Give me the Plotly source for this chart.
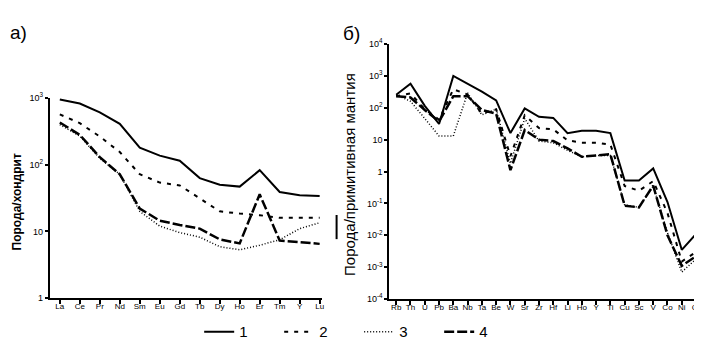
import plotly.graph_objects as go

W, H = 702, 354

# ---- data: chondrite-normalised REE (panel a) ----
ree = ["La", "Ce", "Pr", "Nd", "Sm", "Eu", "Gd", "Tb", "Dy", "Ho", "Er", "Tm", "Y", "Lu"]
ree_1 = [950, 830, 610, 410, 180, 137, 115, 63, 50, 47, 83, 39, 35, 34]
ree_2 = [570, 420, 265, 155, 72, 54, 49, 31, 20, 18.5, 17.5, 16, 16, 16]
ree_3 = [400, 270, 125, 72, 20, 12, 9.6, 8.2, 5.9, 5.3, 6.2, 7.5, 11, 13.5]
ree_4 = [430, 280, 130, 72, 22, 14.5, 12.5, 11, 7.6, 6.6, 36, 7.3, 6.9, 6.5]

# ---- data: primitive-mantle-normalised (panel б) ----
pm = ["Rb", "Th", "U", "Pb", "Ba", "Nb", "Ta", "Be", "W", "Sr", "Zr", "Hf", "Li",
      "Ho", "Y", "Ti", "Cu", "Sc", "V", "Co", "Ni", "Cr"]
pm_1 = [255, 570, 115, 31, 1000, 570, 320, 170, 16, 95, 52, 48, 16, 19, 19, 16,
        0.52, 0.52, 1.25, 0.11, 0.0035, 0.011]
pm_2 = [230, 280, 90, 42, 380, 260, 65, 90, 3, 58, 23, 21, 9.5, 8, 8, 7,
        0.35, 0.25, 0.5, 0.05, 0.0015, 0.003]
pm_3 = [255, 160, 46, 13, 13, 290, 60, 90, 1.8, 46, 9, 8, 4.6, 2.9, 3.2, 3.2,
        0.09, 0.075, 0.35, 0.012, 0.0007, 0.0018]
pm_4 = [230, 210, 85, 37, 230, 230, 85, 65, 1.1, 20, 10, 9, 5.3, 2.9, 3.2, 3.5,
        0.085, 0.075, 0.36, 0.01, 0.0011, 0.0022]

names = ["1", "2", "3", "4"]
styles = [
    dict(color="black", width=2, dash="solid"),
    dict(color="black", width=2, dash="4px,6px"),
    dict(color="black", width=1.5, dash="1px,2px"),
    dict(color="black", width=2.5, dash="10px,3px"),
]

fig = go.Figure()
for i, ys in enumerate([ree_1, ree_2, ree_3, ree_4]):
    fig.add_trace(go.Scatter(x=ree, y=ys, mode="lines", line=styles[i], name=names[i],
                             xaxis="x", yaxis="y", showlegend=True, cliponaxis=False))
for i, ys in enumerate([pm_1, pm_2, pm_3, pm_4]):
    fig.add_trace(go.Scatter(x=pm, y=ys, mode="lines", line=styles[i], name=names[i],
                             xaxis="x2", yaxis="y2", showlegend=False, cliponaxis=False))


def px_x(p):
    return p / W


def px_y(p):
    return (H - p) / H


FAM = "Liberation Sans, Arial, sans-serif"
xtickfont = dict(family=FAM, size=8, color="black")
ytickfont = dict(family=FAM, size=9, color="black")
axis_common = dict(showline=True, linecolor="black", linewidth=2, showgrid=False,
                   zeroline=False, ticks="outside", tickwidth=1.5,
                   tickcolor="black", mirror=False)

fig.update_layout(
    width=W, height=H,
    margin=dict(l=0, r=0, t=0, b=0),
    paper_bgcolor="white", plot_bgcolor="white",
    font=dict(family=FAM, color="black"),
    xaxis=dict(domain=[px_x(42), px_x(315)], anchor="y", type="category",
               range=[-0.5, 13.1], tickfont=xtickfont, ticklen=4,
               tickmode="array", tickvals=ree, ticktext=ree,
               ticklabelstandoff=-5, **axis_common),
    yaxis=dict(domain=[px_y(293), px_y(86)], anchor="x", type="log",
               range=[0, 3], tickvals=[1, 10, 100, 1000], tickfont=ytickfont, ticklen=3,
               ticktext=["1", "10", "10<sup>2</sup>", "10<sup>3</sup>"], **axis_common),
    xaxis2=dict(domain=[px_x(383), px_x(693)], anchor="y2", type="category",
                range=[-0.48, 21.14], tickfont=xtickfont, ticklen=4,
                tickmode="array", tickvals=pm, ticktext=pm,
                ticklabelstandoff=-5, ticklabeloverflow="allow", **axis_common),
    yaxis2=dict(domain=[px_y(294), px_y(30)], anchor="x2", type="log",
                range=[-4, 4], tickfont=ytickfont, ticklen=3,
                tickvals=[1e-4, 1e-3, 1e-2, 1e-1, 1, 10, 100, 1000, 1e4],
                ticktext=["10<sup>-4</sup>", "10<sup>-3</sup>", "10<sup>-2</sup>",
                          "10<sup>-1</sup>", "1", "10", "10<sup>2</sup>",
                          "10<sup>3</sup>", "10<sup>4</sup>"], **axis_common),
    legend=dict(orientation="h", x=px_x(192), xanchor="left", y=px_y(328),
                yanchor="middle", font=dict(size=15, color="black"),
                entrywidth=35, entrywidthmode="pixels", bgcolor="rgba(0,0,0,0)"),
    showlegend=True,
)

ann_font = dict(family=FAM, color="black")
fig.add_annotation(text="а)", x=px_x(0), y=px_y(18), xref="paper", yref="paper",
                   xanchor="left", yanchor="middle", showarrow=False,
                   font=dict(size=19, **ann_font))
fig.add_annotation(text="б)", x=px_x(334), y=px_y(19), xref="paper", yref="paper",
                   xanchor="left", yanchor="middle", showarrow=False,
                   font=dict(size=19, **ann_font))
fig.add_annotation(text="<b>Порода/хондрит</b>", x=px_x(10), y=px_y(193),
                   xref="paper", yref="paper", textangle=-90, showarrow=False,
                   xanchor="center", yanchor="middle", font=dict(size=12, **ann_font))
fig.add_annotation(text="Порода/примитивная мантия", x=px_x(343), y=px_y(165),
                   xref="paper", yref="paper", textangle=-90, showarrow=False,
                   xanchor="center", yanchor="middle", font=dict(size=15, **ann_font))
fig.add_shape(type="line", xref="paper", yref="paper",
              x0=px_x(330), x1=px_x(330), y0=px_y(207), y1=px_y(232),
              line=dict(color="black", width=2))

fig.write_html("out.html")
